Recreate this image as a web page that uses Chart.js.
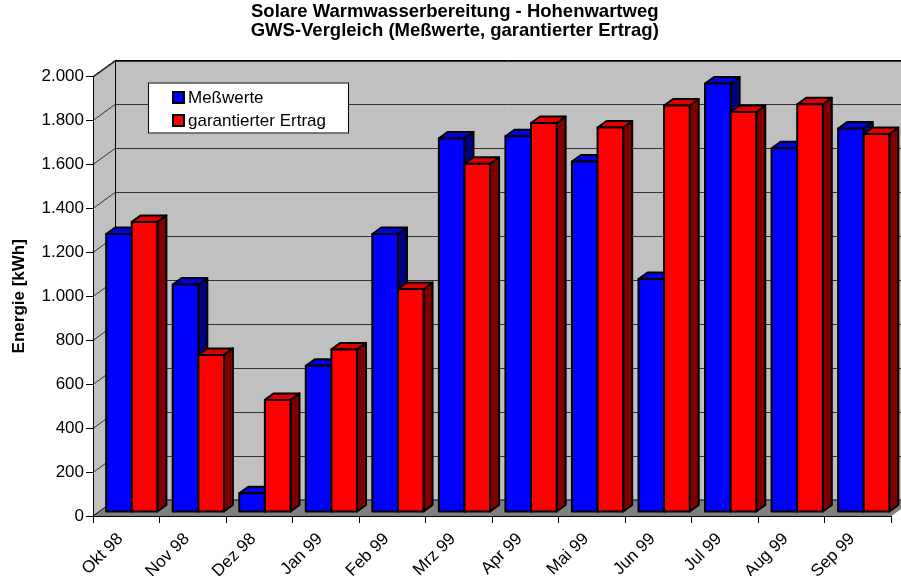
<!DOCTYPE html>
<html>
<head>
<meta charset="utf-8">
<script src="https://cdn.jsdelivr.net/npm/chart.js@4.4.0/dist/chart.umd.min.js"></script>
<style>
  body { margin: 0; background: #fff; }
  canvas { display: block; }
</style>
</head>
<body>
<canvas id="chart" width="901" height="576"></canvas>
<script>
const months = ['Okt 98', 'Nov 98', 'Dez 98', 'Jan 99', 'Feb 99', 'Mrz 99',
                'Apr 99', 'Mai 99', 'Jun 99', 'Jul 99', 'Aug 99', 'Sep 99'];
const messwerte = [1265, 1035, 85, 665, 1265, 1700, 1710, 1595, 1060, 1950, 1655, 1745];
const garantiert = [1320, 715, 510, 740, 1015, 1585, 1770, 1750, 1850, 1820, 1855, 1720];
const seriesNames = ['Meßwerte', 'garantierter Ertrag'];
const titleLines = ['Solare Warmwasserbereitung - Hohenwartweg',
                    'GWS-Vergleich (Meßwerte, garantierter Ertrag)'];
const yTitle = 'Energie [kWh]';

const FONT = '"Liberation Sans", Arial, sans-serif';
const TEXT = 17;
// oblique 3d offsets, front plane -> back wall, front -> bar faces, bar depth
const WALL = { dx: 22, dy: -16 };
const SHIFT = { dx: 5.5, dy: -4 };
const DEPTH = { dx: 9, dy: -6.5 };

function germanNumber(v)
{
    return String(v).replace(/\B(?=(\d{3})+(?!\d))/g, '.');
}

function poly(ctx, pts, fill, stroke)
{
    ctx.beginPath();
    ctx.moveTo(pts[0][0], pts[0][1]);
    for (let i = 1; i < pts.length; i++) ctx.lineTo(pts[i][0], pts[i][1]);
    ctx.closePath();
    if (fill) { ctx.fillStyle = fill; ctx.fill(); }
    if (stroke) { ctx.strokeStyle = stroke; ctx.stroke(); }
}

const box3d = {
    id: 'box3d',
    afterLayout(chart)
    {
        // Excel centres the title a bit right of the page middle
        chart.titleBlock.left = 18;
    },
    beforeDraw(chart)
    {
        const { ctx, chartArea: a, scales: { y } } = chart;
        const bx = WALL.dx, by = WALL.dy;
        ctx.save();
        ctx.fillStyle = '#c0c0c0';
        ctx.fillRect(a.left + bx, a.top + by, a.right - a.left, a.bottom - a.top);
        poly(ctx, [[a.left, a.top], [a.left + bx, a.top + by], [a.left + bx, a.bottom + by], [a.left, a.bottom]], '#c0c0c0');
        poly(ctx, [[a.left, a.bottom], [a.left + bx, a.bottom + by], [a.right + bx, a.bottom + by], [a.right, a.bottom]], '#808080');

        ctx.lineWidth = 1;
        ctx.strokeStyle = '#333';
        y.ticks.forEach(t =>
        {
            if (t.value === 0) return;
            const py = Math.round(y.getPixelForValue(t.value)) + 0.5;
            ctx.beginPath();
            ctx.moveTo(a.left, py);
            ctx.lineTo(a.left + bx, py + by);
            ctx.lineTo(a.right + bx, py + by);
            ctx.stroke();
        });

        ctx.strokeStyle = '#000';
        ctx.beginPath();
        ctx.moveTo(a.left, a.top);
        ctx.lineTo(a.left + bx, a.top + by);
        ctx.lineTo(a.right + bx, a.top + by);
        ctx.moveTo(a.left + bx + 0.5, a.top + by);
        ctx.lineTo(a.left + bx + 0.5, a.bottom + by);
        ctx.lineTo(a.right + bx, a.bottom + by);
        ctx.moveTo(a.left + bx, a.bottom + by);
        ctx.lineTo(a.left, a.bottom);
        ctx.stroke();
        ctx.restore();
    },
    beforeDatasetsDraw(chart)
    {
        const ctx = chart.ctx;
        ctx.save();
        ctx.lineWidth = 2;
        ctx.lineJoin = 'round';
        chart.data.datasets.forEach((ds, i) =>
        {
            const meta = chart.getDatasetMeta(i);
            meta.data.forEach(el =>
            {
                const { x, y, base, width } = el.getProps(['x', 'y', 'base', 'width'], true);
                const x0 = x - width / 2 + SHIFT.dx, x1 = x + width / 2 + SHIFT.dx;
                const top = y + SHIFT.dy, bot = base + SHIFT.dy;
                const dx = DEPTH.dx, dy = DEPTH.dy;
                poly(ctx, [[x1, top], [x1 + dx, top + dy], [x1 + dx, bot + dy], [x1, bot]], ds.sideColor, '#000');
                poly(ctx, [[x0, top], [x0 + dx, top + dy], [x1 + dx, top + dy], [x1, top]], ds.topColor, '#000');
                poly(ctx, [[x0, top], [x1, top], [x1, bot], [x0, bot]], ds.backgroundColor, '#000');
            });
        });
        ctx.restore();
        return false;
    },
    afterDraw(chart)
    {
        const { ctx, chartArea: a } = chart;
        const lx = a.left + 55, ly = a.top + 6;
        ctx.save();
        ctx.fillStyle = '#fff';
        ctx.fillRect(lx, ly, 201, 51);
        ctx.strokeStyle = '#000';
        ctx.lineWidth = 1;
        ctx.strokeRect(lx + 0.5, ly + 0.5, 200, 50);
        ctx.font = TEXT + 'px ' + FONT;
        ctx.textBaseline = 'middle';
        chart.data.datasets.forEach((ds, i) =>
        {
            const cy = ly + 15 + i * 23;
            ctx.lineWidth = 2;
            ctx.fillStyle = ds.backgroundColor;
            ctx.fillRect(lx + 25, cy - 5.5, 11, 11);
            ctx.strokeStyle = '#000';
            ctx.strokeRect(lx + 25, cy - 5.5, 11, 11);
            ctx.fillStyle = '#000';
            ctx.fillText(ds.label, lx + 40, cy + 1);
        });
        ctx.restore();
    }
};

new Chart(document.getElementById('chart'), {
    type: 'bar',
    data: {
        labels: months,
        datasets: [
            {
                label: seriesNames[0],
                data: messwerte,
                backgroundColor: '#0000ff',
                sideColor: '#000080',
                topColor: '#0000e0',
                categoryPercentage: 0.77,
                barPercentage: 1
            },
            {
                label: seriesNames[1],
                data: garantiert,
                backgroundColor: '#ff0000',
                sideColor: '#800000',
                topColor: '#e00000',
                categoryPercentage: 0.77,
                barPercentage: 1
            }
        ]
    },
    options: {
        responsive: false,
        animation: false,
        layout: { padding: { left: 0, right: 9.5, top: 0, bottom: 0 } },
        plugins: {
            legend: { display: false },
            tooltip: { enabled: false },
            title: {
                display: true,
                text: titleLines,
                color: '#000',
                font: { family: FONT, size: 18.5, weight: 'bold', lineHeight: 18.5 / 18.5 },
                padding: { top: 3, bottom: 36.5 }
            }
        },
        scales: {
            x: {
                grid: { drawOnChartArea: false, tickLength: 7, color: '#000', offset: true },
                border: { color: '#000' },
                ticks: {
                    color: '#000',
                    font: { family: FONT, size: TEXT },
                    minRotation: 45,
                    maxRotation: 45,
                    autoSkip: false,
                    padding: 6,
                    labelOffset: -6
                },
                afterFit(scale) { scale.height = 60; }
            },
            y: {
                min: 0,
                max: 2000,
                ticks: {
                    stepSize: 200,
                    color: '#000',
                    font: { family: FONT, size: TEXT },
                    padding: 2,
                    callback: v => germanNumber(v)
                },
                grid: { drawOnChartArea: false, tickLength: 7, color: '#000' },
                border: { color: '#000' },
                title: {
                    display: true,
                    text: yTitle,
                    color: '#000',
                    font: { family: FONT, size: TEXT, weight: 'bold' },
                    padding: { top: 9, bottom: 0 }
                },
                afterFit(scale) { scale.width = 93; }
            }
        }
    },
    plugins: [box3d]
});
</script>
</body>
</html>
